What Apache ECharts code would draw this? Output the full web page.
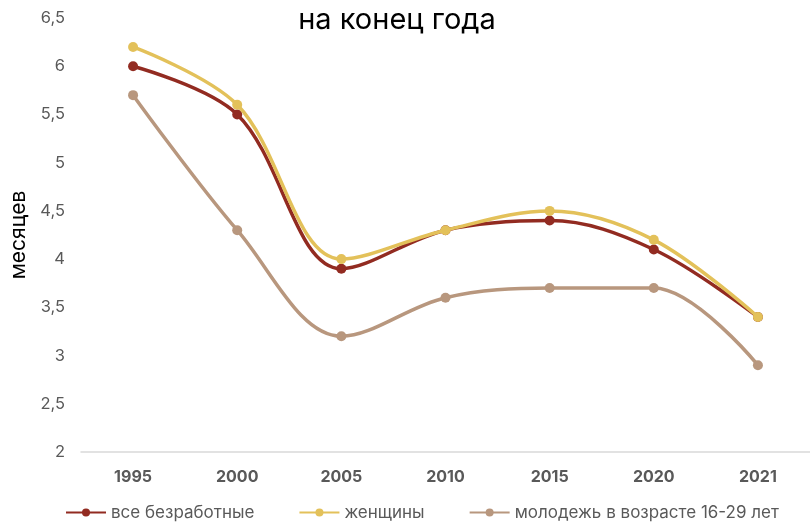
<!DOCTYPE html>
<html><head><meta charset="utf-8">
<script src="https://cdn.jsdelivr.net/npm/echarts@6/dist/echarts.min.js"></script>
<style>html,body{margin:0;padding:0;background:#fff}#c{width:810px;height:523px}</style>
</head><body><div id="c"></div>
<script>
const categories = ['1995','2000','2005','2010','2015','2020','2021'];
const allUnemployed = [6.0, 5.5, 3.9, 4.3, 4.4, 4.1, 3.4];
const women = [6.2, 5.6, 4.0, 4.3, 4.5, 4.2, 3.4];
const youth = [5.7, 4.3, 3.2, 3.6, 3.7, 3.7, 2.9];
const seriesNames = ['все безработные', 'женщины', 'молодежь в возрасте 16-29 лет'];
const colors = ['#922b21', '#e3c15a', '#b8977e'];

const chart = echarts.init(document.getElementById('c'));
const font = 'Inter, "Open Sans", sans-serif';
function mk(name, data, color, z) {
  return {
    name, type: 'line', data, smooth: 0.35,
    symbol: 'circle', symbolSize: 10,
    lineStyle: { color, width: 3.5 },
    itemStyle: { color },
    z
  };
}
chart.setOption({
  animation: false,
  textStyle: { fontFamily: font },
  title: {
    text: 'на конец года', left: 392, top: 1, textAlign: 'center',
    textStyle: { fontFamily: font, fontSize: 29, fontWeight: 'normal', color: '#000' }
  },
  legend: {
    bottom: -3, left: 60, itemWidth: 40, itemHeight: 10, itemGap: 44,
    textStyle: { fontFamily: font, fontSize: 17, color: '#595959' },
    data: seriesNames
  },
  grid: { left: 81, right: -14, top: 18, bottom: 71 },
  xAxis: {
    type: 'category', data: categories, boundaryGap: true,
    axisLine: { lineStyle: { color: '#d9d9d9', width: 1.5 } },
    axisTick: { show: false },
    axisLabel: { fontFamily: font, fontSize: 16, fontWeight: 'bold', color: '#595959', margin: 17 }
  },
  yAxis: {
    type: 'value', min: 2, max: 6.5, interval: 0.5,
    name: 'месяцев', nameLocation: 'middle', nameGap: 41,
    nameTextStyle: { fontFamily: font, fontSize: 21, color: '#000' },
    axisLine: { show: false }, axisTick: { show: false },
    splitLine: { show: false },
    axisLabel: {
      fontFamily: font, fontSize: 16.5, color: '#595959', margin: 16,
      formatter: v => String(Math.round(v * 10) / 10).replace('.', ',')
    }
  },
  series: [
    mk(seriesNames[0], allUnemployed, colors[0], 2),
    mk(seriesNames[1], women, colors[1], 3),
    mk(seriesNames[2], youth, colors[2], 1)
  ]
});
</script></body></html>
